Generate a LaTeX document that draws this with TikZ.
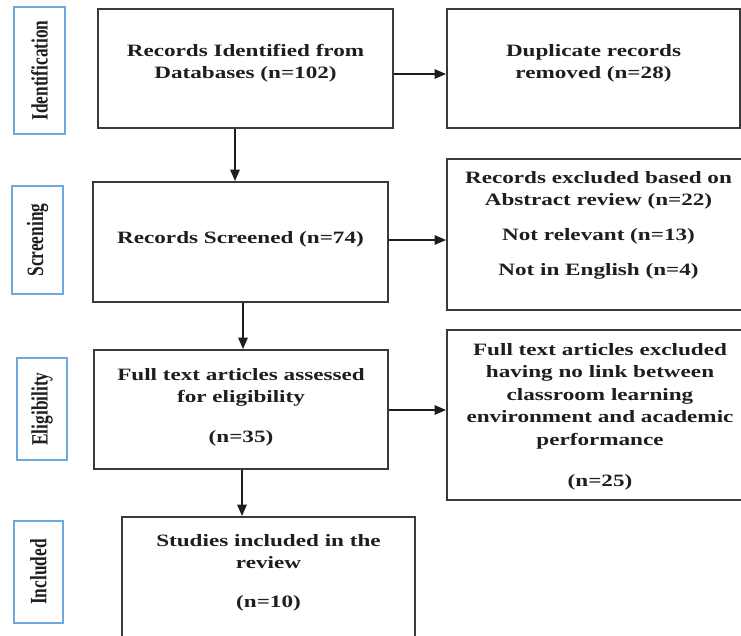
\documentclass[tikz,border=0pt]{standalone}
\usepackage{fontspec}
\setmainfont{Liberation Serif}
\usepackage{graphicx}
\usetikzlibrary{arrows.meta}
\definecolor{boxline}{HTML}{3A3A3A}
\definecolor{lblline}{HTML}{6FA8DC}
\definecolor{txtcol}{HTML}{1E1E1E}
\newcommand{\txtblock}[1]{\scalebox{1.335}[1]{\begin{tabular}[t]{@{}c@{}}#1\end{tabular}}}
\newcommand{\vlbl}[1]{\scalebox{1}[1.35]{#1}}
\begin{document}
\begin{tikzpicture}[x=0.75pt,y=-0.75pt,
  sz/.style 2 args={minimum width=#1*0.75pt, minimum height=#2*0.75pt},
  box/.style={draw=boxline,line width=1.4pt,inner sep=0pt,rectangle},
  lbl/.style={draw=lblline,line width=1.1pt,inner sep=0pt,rectangle},
  txt/.style={text=txtcol,inner sep=0pt,anchor=base,font=\fontsize{13}{16.875}\selectfont\bfseries},
  vtxt/.style={text=txtcol,inner sep=0pt,rotate=90,font=\fontsize{13}{16}\selectfont\bfseries},
  arr/.style={draw=txtcol,line width=1.2pt,-{Triangle[length=8.5pt,width=7pt]}}]
\useasboundingbox (0,0) rectangle (741,635);
\clip (0,0) rectangle (741,635);
% phase labels
\node[lbl,sz={51}{127}] (L1) at (39.5,70.5) {};
\node[lbl,sz={51}{108}] (L2) at (37.5,240) {};
\node[lbl,sz={50}{102}] (L3) at (42,409) {};
\node[lbl,sz={49}{102}] (L4) at (38.5,572) {};
\node[vtxt] (L1t) at (L1.center) {\vlbl{Identification}};
\node[vtxt] (L2t) at (L2.center) {\vlbl{Screening}};
\node[vtxt] (L3t) at (L3.center) {\vlbl{Eligibility}};
\node[vtxt] (L4t) at (L4.center) {\vlbl{Included}};
% boxes
\node[box,sz={295}{119}] (A) at (245.5,68.5) {};
\node[box,sz={293}{119}] (B) at (593.5,68.5) {};
\node[box,sz={295}{120}] (C) at (240.5,242) {};
\node[box,sz={306}{151}] (D) at (600,234.5) {};
\node[box,sz={294}{119}] (E) at (241,409.5) {};
\node[box,sz={306}{170}] (F) at (600,415) {};
\node[box,sz={293}{136}] (G) at (268.5,585) {};
% texts
\node[txt] (At) at (245.5,56) {\txtblock{Records Identified from\\Databases (n=102)}};
\node[txt] (Bt) at (593.5,56) {\txtblock{Duplicate records\\removed (n=28)}};
\node[txt] (Ct) at (240.5,243) {\txtblock{Records Screened (n=74)}};
\node[txt] (Dt) at (598.5,183) {\txtblock{Records excluded based on\\Abstract review (n=22)\\[9.4pt]Not relevant (n=13)\\[9.4pt]Not in English (n=4)}};
\node[txt] (Et) at (241,380) {\txtblock{Full text articles assessed\\for eligibility\\[13pt](n=35)}};
\node[txt] (Ft) at (600,355) {\txtblock{Full text articles excluded\\having no link between\\classroom learning\\environment and academic\\performance\\[14.6pt](n=25)}};
\node[txt] (Gt) at (268.5,546) {\txtblock{Studies included in the\\review\\[12.4pt](n=10)}};
% arrows
\draw[arr] (A.east |- 0,74) -- (B.west |- 0,74);
\draw[arr] (A.south -| 235,0) -- (C.north -| 235,0);
\draw[arr] (C.east |- 0,240) -- (D.west |- 0,240);
\draw[arr] (C.south -| 243,0) -- (E.north -| 243,0);
\draw[arr] (E.east |- 0,410) -- (F.west |- 0,410);
\draw[arr] (E.south -| 242,0) -- (G.north -| 242,0);
\end{tikzpicture}
\end{document}
